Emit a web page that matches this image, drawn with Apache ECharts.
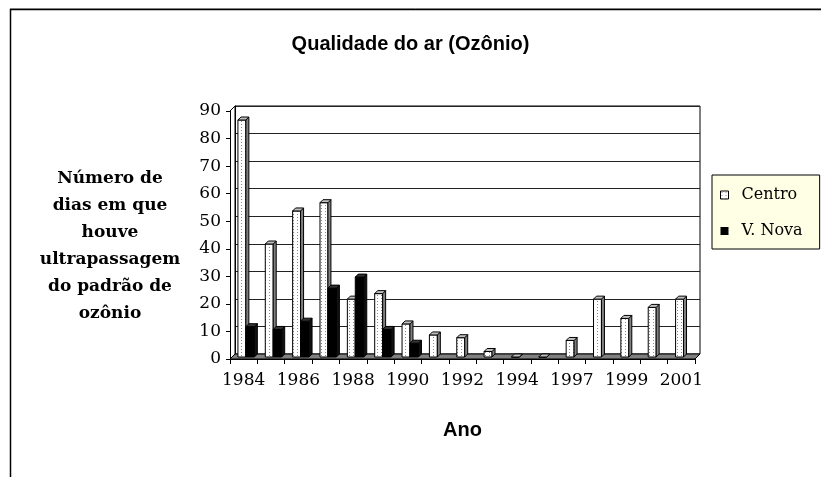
<!DOCTYPE html>
<html><head><meta charset="utf-8">
<script src="https://cdn.jsdelivr.net/npm/echarts/dist/echarts.min.js"></script>
<style>html,body{margin:0;padding:0;background:#fff}#c{width:821px;height:477px}</style>
</head><body><div id="c"></div>
<script>
// ---- data ----
const years = ['1984','1985','1986','1987','1988','1989','1990','1991','1992','1993','1994','1995','1997','1998','1999','2000','2001'];
const centro = [86, 41, 53, 56, 21, 23, 12, 8, 7, 2, 0, 0, 6, 21, 14, 18, 21];
const vNova  = [11, 10, 13, 25, 29, 10, 5, null, null, null, null, null, null, null, null, null, null];
const seriesNames = ['Centro', 'V. Nova'];
const yMin = 0, yMax = 90, yStep = 10;
const titleText = 'Qualidade do ar (Ozônio)';
const yName = ['Número de', 'dias em que', 'houve', 'ultrapassagem', 'do padrão de', 'ozônio'];
const xName = 'Ano';

// ---- layout ----
const GL = 230, GT = 111, GW = 465, GH = 248, DX = 5, DY = -5;

const pc = document.createElement('canvas'); pc.width = 4; pc.height = 3;
const g = pc.getContext('2d'); g.fillStyle = '#fff'; g.fillRect(0, 0, 4, 3);
g.fillStyle = '#8a8a8a'; g.fillRect(1, 1, 1, 1);
const patternFill = { image: pc, repeat: 'repeat' };

const styles = [
  { front: patternFill, side: '#808080', top: '#c0c0c0', off: 0.29, w: 0.29 },
  { front: '#000', side: '#111', top: '#333', off: 0.58, w: 0.31 }
];

function make3D(k) {
  return function (params, api) {
    const v = api.value(1);
    if (v === null || v === undefined || isNaN(v)) return null;
    const c0 = api.coord([api.value(0), 0]);
    const c1 = api.coord([api.value(0), v]);
    const band = api.size([1, 0])[0];
    const s = styles[k];
    const w = band * s.w;
    const left = c0[0] - band / 2 + band * s.off;
    const by = -2, d = 3;
    const bottom = c0[1] + by, top = c1[1] + by;
    const st = { stroke: '#000', lineWidth: 1 };
    return {
      type: 'group',
      children: [
        { type: 'rect', shape: { x: left, y: top, width: w, height: bottom - top },
          style: Object.assign({ fill: s.front }, st) },
        { type: 'polygon', shape: { points: [[left + w, top], [left + w + d, top - d], [left + w + d, bottom - d], [left + w, bottom]] },
          style: Object.assign({ fill: s.side }, st) },
        { type: 'polygon', shape: { points: [[left, top], [left + d, top - d], [left + w + d, top - d], [left + w, top]] },
          style: Object.assign({ fill: s.top }, st) }
      ]
    };
  };
}

const chart = echarts.init(document.getElementById('c'), null, { renderer: 'canvas' });
const serif = 'DejaVu Serif';
chart.setOption({
  animation: false,
  backgroundColor: '#fff',
  title: {
    text: titleText, left: 'center', top: 29,
    textStyle: { fontFamily: 'Liberation Sans, Arial', fontWeight: 'bold', fontSize: 20, color: '#000' }
  },
  legend: {
    orient: 'vertical', left: 712, top: 175,
    padding: [12, 17, 10, 8], itemGap: 20, itemWidth: 8, itemHeight: 8,
    backgroundColor: '#FFFFE6', borderColor: '#000', borderWidth: 1,
    textStyle: { fontFamily: serif, fontSize: 16, color: '#000', lineHeight: 16, padding: [0, 0, 0, 8] },
    data: [
      { name: seriesNames[0], icon: 'rect', itemStyle: { color: patternFill, borderColor: '#000', borderWidth: 1 } },
      { name: seriesNames[1], icon: 'rect', itemStyle: { color: '#000', borderWidth: 0 } }
    ]
  },
  grid: [
    { left: GL, top: GT, width: GW, height: GH },
    { left: GL + DX, top: GT + DY, width: GW, height: GH, show: true, borderColor: '#000', borderWidth: 1, backgroundColor: 'transparent' }
  ],
  xAxis: [
    { type: 'category', gridIndex: 0, data: years, z: 5,
      axisLine: { lineStyle: { color: '#000', width: 1 } },
      axisTick: { show: true, interval: 0, length: 5, lineStyle: { color: '#000' } },
      axisLabel: { interval: 1, margin: 13, color: '#000', fontFamily: serif, fontSize: 17 },
      name: xName, nameLocation: 'middle', nameGap: 61,
      nameTextStyle: { fontFamily: 'Liberation Sans, Arial', fontWeight: 'bold', fontSize: 20, color: '#000' } },
    { type: 'category', gridIndex: 1, data: years, show: false }
  ],
  yAxis: [
    { type: 'value', gridIndex: 0, min: yMin, max: yMax, interval: yStep, z: 5,
      axisLine: { show: true, lineStyle: { color: '#000' } },
      axisTick: { show: true, length: 4, lineStyle: { color: '#000' } },
      splitLine: { show: false },
      axisLabel: { margin: 9, color: '#000', fontFamily: serif, fontSize: 17 } },
    { type: 'value', gridIndex: 1, min: yMin, max: yMax, interval: yStep,
      axisLine: { show: true, lineStyle: { color: '#000' } },
      axisTick: { show: false }, axisLabel: { show: false },
      splitLine: { show: true, lineStyle: { color: '#222', width: 1 } } }
  ],
  graphic: [
    { type: 'line', z: 0, shape: { x1: 10, y1: 8.5, x2: 821, y2: 8.5 }, style: { stroke: '#aaa', lineWidth: 1 } },
    { type: 'rect', z: 0, shape: { x: 10.5, y: 9.5, width: 900, height: 600 }, style: { fill: 'none', stroke: '#000', lineWidth: 1.5 } },
    { type: 'polygon', z: 1,
      shape: { points: [[GL, GT + GH], [GL + GW, GT + GH], [GL + GW + DX, GT + GH + DY], [GL + DX, GT + GH + DY]] },
      style: { fill: '#808080', stroke: '#000', lineWidth: 1 } },
    { type: 'line', z: 1, shape: { x1: GL, y1: GT, x2: GL + DX, y2: GT + DY }, style: { stroke: '#000', lineWidth: 1 } },
    { type: 'text', z: 2, x: 110, y: 246,
      style: { text: yName.join('\n'), fill: '#000', font: 'bold 17px "DejaVu Serif"', lineHeight: 27,
        align: 'center', verticalAlign: 'middle' } }
  ],
  series: [
    { name: seriesNames[0], type: 'custom', xAxisIndex: 0, yAxisIndex: 0, z: 3,
      itemStyle: { color: '#fff' },
      renderItem: make3D(0), encode: { x: 0, y: 1 },
      data: centro.map((v, i) => [i, v]) },
    { name: seriesNames[1], type: 'custom', xAxisIndex: 0, yAxisIndex: 0, z: 3,
      itemStyle: { color: '#000' },
      renderItem: make3D(1), encode: { x: 0, y: 1 },
      data: vNova.map((v, i) => [i, v]) }
  ]
});
</script>
</body></html>
